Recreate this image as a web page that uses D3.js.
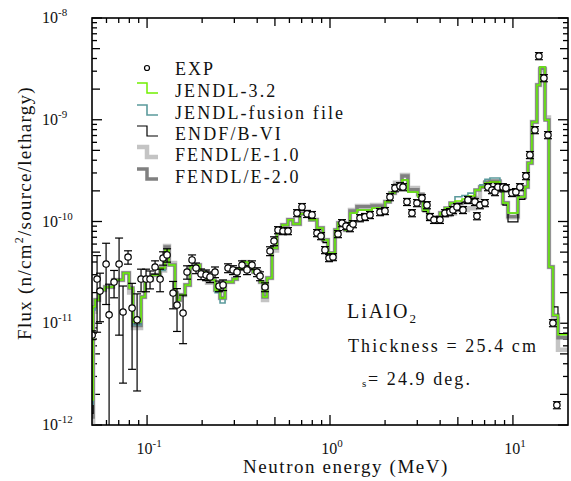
<!DOCTYPE html>
<html>
<head>
<meta charset="utf-8">
<script src="https://cdn.jsdelivr.net/npm/d3@7"></script>
<style>
  body { margin: 0; background: #fff; }
  text { font-family: "Liberation Serif", "Times New Roman", serif; fill: #111; }
</style>
</head>
<body>
<svg id="chart"></svg>
<script>
const width = 571;
const height = 481;

// group boundaries (MeV), 81 groups
const binEdges = [
  0.0500, 0.0507, 0.0520, 0.0547, 0.0589, 0.0652, 0.0740, 0.0798, 0.0838, 0.0927,
  0.0975, 0.1064, 0.1178, 0.1254, 0.1318, 0.1422, 0.1458, 0.1514, 0.1613, 0.1718,
  0.1830, 0.1949, 0.2128, 0.2353, 0.2506, 0.2669, 0.2951, 0.3104, 0.3348, 0.3565,
  0.3797, 0.4140, 0.4303, 0.4526, 0.4821, 0.5135, 0.5469, 0.5891, 0.6275, 0.6856,
  0.7777, 0.8490, 0.9157, 0.9752, 1.065, 1.106, 1.208, 1.286, 1.404, 1.697,
  1.998, 2.128, 2.266, 2.474, 2.668, 3.026, 3.223, 3.433, 3.992, 4.252,
  4.528, 4.822, 5.264, 5.675, 6.197, 6.600, 7.029, 7.486, 8.491, 8.815,
  9.398, 10.65, 11.63, 12.08, 12.70, 13.53, 14.05, 14.97, 15.74, 16.55,
  17.63, 20.0
];

const jendl32 = [
  1.76e-12, 1.45e-11, 1.69e-11, 2.12e-11, 2.27e-11, 2.66e-11, 3.12e-11, 2.22e-11, 1.03e-11, 1.81e-11,
  2.66e-11, 2.98e-11, 3.49e-11, 5.25e-11, 3.73e-11, 1.98e-11, 1.69e-11, 1.90e-11, 2.38e-11, 3.57e-11,
  3.73e-11, 3.19e-11, 2.66e-11, 2.12e-11, 1.77e-11, 2.54e-11, 2.72e-11, 3.41e-11, 4.00e-11, 3.57e-11,
  3.19e-11, 2.54e-11, 1.81e-11, 2.79e-11, 5.49e-11, 7.88e-11, 9.24e-11, 1.04e-10, 9.44e-11, 1.19e-10,
  1.04e-10, 8.63e-11, 6.58e-11, 4.90e-11, 8.24e-11, 9.66e-11, 8.24e-11, 1.21e-10, 1.30e-10, 1.36e-10,
  1.56e-10, 1.91e-10, 2.29e-10, 2.56e-10, 1.95e-10, 1.74e-10, 1.30e-10, 1.08e-10, 1.21e-10, 1.36e-10,
  1.52e-10, 1.59e-10, 1.66e-10, 1.78e-10, 2.04e-10, 2.18e-10, 2.39e-10, 2.44e-10, 2.04e-10, 1.52e-10,
  1.21e-10, 1.74e-10, 2.18e-10, 3.76e-10, 9.51e-10, 2.20e-9, 3.30e-9, 9.95e-10, 3.57e-11, 1.20e-11,
  7.7e-12
];

const jendlFusion = [
  1.60e-12, 1.35e-11, 1.69e-11, 2.12e-11, 2.27e-11, 2.66e-11, 3.12e-11, 2.22e-11, 9.60e-12, 1.81e-11,
  2.66e-11, 2.98e-11, 3.30e-11, 5.25e-11, 3.73e-11, 1.98e-11, 1.69e-11, 1.90e-11, 2.38e-11, 3.57e-11,
  3.73e-11, 3.19e-11, 2.66e-11, 2.00e-11, 1.58e-11, 2.54e-11, 2.72e-11, 3.41e-11, 4.00e-11, 3.57e-11,
  3.19e-11, 2.54e-11, 1.81e-11, 2.79e-11, 5.49e-11, 7.88e-11, 9.24e-11, 1.04e-10, 9.44e-11, 1.19e-10,
  1.04e-10, 8.63e-11, 6.58e-11, 4.90e-11, 8.24e-11, 9.66e-11, 8.24e-11, 1.21e-10, 1.30e-10, 1.36e-10,
  1.56e-10, 1.91e-10, 2.29e-10, 2.56e-10, 1.95e-10, 1.74e-10, 1.30e-10, 1.08e-10, 1.21e-10, 1.36e-10,
  1.52e-10, 1.75e-10, 1.80e-10, 1.90e-10, 2.04e-10, 2.30e-10, 2.60e-10, 2.68e-10, 2.04e-10, 1.52e-10,
  1.21e-10, 1.74e-10, 2.18e-10, 3.76e-10, 9.51e-10, 2.20e-9, 3.30e-9, 9.95e-10, 3.57e-11, 1.20e-11,
  7.7e-12
];

const endfB6 = [
  1.30e-12, 1.45e-11, 1.69e-11, 2.12e-11, 2.27e-11, 2.66e-11, 3.12e-11, 2.22e-11, 9.80e-12, 1.81e-11,
  2.66e-11, 2.98e-11, 3.49e-11, 5.25e-11, 3.73e-11, 1.98e-11, 1.69e-11, 1.90e-11, 2.38e-11, 3.57e-11,
  3.73e-11, 3.19e-11, 2.66e-11, 2.12e-11, 1.77e-11, 2.54e-11, 2.72e-11, 3.41e-11, 4.00e-11, 3.57e-11,
  3.19e-11, 2.54e-11, 1.81e-11, 2.79e-11, 5.49e-11, 7.88e-11, 9.24e-11, 1.04e-10, 9.44e-11, 1.19e-10,
  1.04e-10, 8.63e-11, 6.20e-11, 4.70e-11, 8.24e-11, 9.66e-11, 8.24e-11, 1.21e-10, 1.30e-10, 1.36e-10,
  1.56e-10, 1.91e-10, 2.29e-10, 2.56e-10, 1.95e-10, 1.74e-10, 1.25e-10, 1.05e-10, 1.21e-10, 1.36e-10,
  1.52e-10, 1.50e-10, 1.55e-10, 1.65e-10, 2.04e-10, 2.18e-10, 2.39e-10, 2.44e-10, 1.95e-10, 1.45e-10,
  9.90e-11, 1.65e-10, 2.18e-10, 3.76e-10, 9.51e-10, 2.20e-9, 3.30e-9, 9.95e-10, 3.57e-11, 1.45e-11,
  7.9e-12
];

const fendl10 = [
  8.90e-13, 1.30e-11, 1.69e-11, 2.12e-11, 2.27e-11, 2.66e-11, 3.12e-11, 2.00e-11, 9.00e-12, 1.81e-11,
  2.66e-11, 2.98e-11, 3.30e-11, 5.76e-11, 3.90e-11, 1.98e-11, 1.69e-11, 1.90e-11, 2.38e-11, 3.57e-11,
  3.73e-11, 3.19e-11, 2.50e-11, 2.12e-11, 1.77e-11, 2.54e-11, 2.72e-11, 3.41e-11, 4.00e-11, 3.57e-11,
  3.19e-11, 2.54e-11, 1.69e-11, 2.79e-11, 5.20e-11, 7.88e-11, 9.24e-11, 1.04e-10, 9.44e-11, 1.19e-10,
  1.04e-10, 8.63e-11, 6.58e-11, 4.38e-11, 8.24e-11, 9.66e-11, 8.24e-11, 1.30e-10, 1.42e-10, 1.45e-10,
  1.56e-10, 1.91e-10, 2.40e-10, 2.86e-10, 2.14e-10, 1.82e-10, 1.40e-10, 1.08e-10, 1.21e-10, 1.16e-10,
  1.20e-10, 1.30e-10, 1.30e-10, 1.35e-10, 1.70e-10, 2.18e-10, 2.39e-10, 2.44e-10, 2.04e-10, 1.52e-10,
  1.10e-10, 1.74e-10, 2.18e-10, 3.76e-10, 9.51e-10, 2.20e-9, 3.10e-9, 1.05e-9, 3.57e-11, 1.10e-11,
  5.5e-12
];

const fendl20 = [
  1.20e-12, 1.45e-11, 1.69e-11, 2.12e-11, 2.27e-11, 2.66e-11, 3.12e-11, 2.22e-11, 9.50e-12, 1.81e-11,
  2.66e-11, 2.98e-11, 3.49e-11, 5.60e-11, 3.73e-11, 1.98e-11, 1.69e-11, 1.90e-11, 2.38e-11, 3.57e-11,
  3.73e-11, 3.19e-11, 2.66e-11, 2.12e-11, 1.77e-11, 2.54e-11, 2.72e-11, 3.41e-11, 4.00e-11, 3.57e-11,
  3.19e-11, 2.54e-11, 1.81e-11, 2.79e-11, 5.49e-11, 7.88e-11, 9.24e-11, 1.04e-10, 9.44e-11, 1.19e-10,
  1.04e-10, 8.63e-11, 6.58e-11, 4.90e-11, 8.24e-11, 9.66e-11, 8.24e-11, 1.27e-10, 1.40e-10, 1.42e-10,
  1.56e-10, 1.91e-10, 2.29e-10, 2.80e-10, 2.05e-10, 1.85e-10, 1.30e-10, 1.08e-10, 1.21e-10, 1.36e-10,
  1.52e-10, 1.50e-10, 1.55e-10, 1.70e-10, 2.04e-10, 2.18e-10, 2.45e-10, 2.50e-10, 2.04e-10, 1.52e-10,
  1.12e-10, 1.74e-10, 2.18e-10, 3.76e-10, 9.51e-10, 2.20e-9, 3.20e-9, 9.95e-10, 3.57e-11, 1.20e-11,
  7.2e-12
];

// measured points
const expE = [
  0.0501, 0.0533, 0.0553, 0.0597, 0.0620, 0.0660, 0.0703, 0.0739, 0.0787, 0.0828,
  0.0882, 0.0927, 0.0987, 0.1038, 0.1106, 0.1178, 0.1223, 0.1286, 0.1387, 0.1458,
  0.1573, 0.1654, 0.1762, 0.1852, 0.1973, 0.2101, 0.2209, 0.2352, 0.2474, 0.2602,
  0.2771, 0.2951, 0.3103, 0.3304, 0.3519, 0.3748, 0.3991, 0.4145, 0.4414, 0.4700,
  0.4943, 0.5198, 0.5535, 0.5895, 0.6601, 0.7031, 0.7487, 0.7974, 0.8491, 0.8930,
  0.9390, 0.9875, 1.038, 1.106, 1.163, 1.223, 1.286, 1.336, 1.459, 1.553,
  1.654, 1.876, 1.998, 2.128, 2.266, 2.413, 2.506, 2.635, 2.806, 2.988,
  3.182, 3.389, 3.519, 3.701, 3.992, 4.250, 4.526, 4.700, 4.943, 5.332,
  5.677, 6.199, 6.357, 6.601, 7.031, 7.302, 7.679, 7.975, 8.279, 8.817,
  9.157, 9.875, 10.38, 10.92, 11.78, 12.38, 13.19, 13.87, 14.77, 15.54,
  16.54, 17.39
];
const expF = [
  7.66e-12, 2.72e-11, 2.07e-11, 3.82e-11, 1.21e-11, 2.54e-11, 3.82e-11, 1.29e-11, 4.48e-11, 1.41e-11,
  1.08e-11, 2.72e-11, 2.72e-11, 2.72e-11, 3.57e-11, 2.72e-11, 4.38e-11, 4.69e-11, 1.98e-11, 1.51e-11,
  1.26e-11, 3.19e-11, 4.19e-11, 3.49e-11, 3.05e-11, 2.98e-11, 2.85e-11, 3.19e-11, 2.32e-11, 2.38e-11,
  3.49e-11, 3.34e-11, 3.19e-11, 3.73e-11, 3.34e-11, 3.73e-11, 3.19e-11, 2.91e-11, 2.27e-11, 5.13e-11,
  6.43e-11, 8.24e-11, 8.07e-11, 8.07e-11, 1.21e-10, 1.39e-10, 1.19e-10, 1.16e-10, 7.71e-11, 7.20e-11,
  5.25e-11, 4.38e-11, 4.48e-11, 7.54e-11, 9.66e-11, 9.03e-11, 8.63e-11, 9.44e-11, 1.08e-10, 1.11e-10,
  1.16e-10, 1.24e-10, 1.27e-10, 1.74e-10, 2.13e-10, 2.23e-10, 2.18e-10, 1.56e-10, 1.21e-10, 1.52e-10,
  1.70e-10, 1.45e-10, 1.11e-10, 1.04e-10, 1.04e-10, 1.21e-10, 1.24e-10, 1.30e-10, 1.39e-10, 1.30e-10,
  1.63e-10, 1.56e-10, 1.13e-10, 1.45e-10, 1.52e-10, 2.18e-10, 2.04e-10, 1.95e-10, 2.18e-10, 2.18e-10,
  2.13e-10, 1.91e-10, 1.95e-10, 2.18e-10, 2.80e-10, 4.51e-10, 7.93e-10, 4.23e-9, 2.57e-9, 7.08e-10,
  1.005e-11, 1.57e-12
];
// relative uncertainty
const expErr = [
  0.10, 0.70, 0.50, 0.60, 1.00, 0.30, 0.80, 0.80, 0.15, 0.75,
  0.80, 0.25, 0.25, 0.20, 0.15, 0.25, 0.15, 0.15, 0.30, 0.45,
  0.50, 0.15, 0.12, 0.12, 0.12, 0.12, 0.12, 0.12, 0.12, 0.12,
  0.10, 0.10, 0.10, 0.10, 0.10, 0.10, 0.10, 0.10, 0.10, 0.10,
  0.10, 0.08, 0.08, 0.08, 0.08, 0.08, 0.08, 0.08, 0.08, 0.08,
  0.08, 0.08, 0.08, 0.08, 0.08, 0.08, 0.08, 0.08, 0.08, 0.08,
  0.08, 0.08, 0.08, 0.08, 0.08, 0.08, 0.08, 0.08, 0.08, 0.08,
  0.08, 0.08, 0.08, 0.08, 0.08, 0.08, 0.08, 0.08, 0.08, 0.08,
  0.08, 0.08, 0.08, 0.08, 0.08, 0.08, 0.08, 0.08, 0.08, 0.08,
  0.08, 0.08, 0.08, 0.08, 0.08, 0.08, 0.08, 0.08, 0.08, 0.08,
  0.08, 0.08
];

const seriesNames = ["JENDL-3.2", "JENDL-fusion file", "ENDF/B-VI", "FENDL/E-1.0", "FENDL/E-2.0"];
const xMajor = [0.1, 1, 10];
const yMajor = [1e-12, 1e-11, 1e-10, 1e-9, 1e-8];

const svg = d3.select("#chart")
    .attr("width", width)
    .attr("height", height);

const x = d3.scaleLog().domain([0.05, 20]).range([92, 568]);
const y = d3.scaleLog().domain([1e-12, 1e-8]).range([425, 18]);
const [x0, x1] = x.range();
const [y0, y1] = y.range();

// stretch a text to a given width through letter-spacing
function fitWidth(sel, target) {
  const node = sel.node();
  const n = node.textContent.length;
  const w = node.getComputedTextLength();
  sel.attr("letter-spacing", ((target - w) / n).toFixed(2));
}

svg.append("clipPath").attr("id", "plot")
  .append("rect").attr("x", x0).attr("y", y1).attr("width", x1 - x0).attr("height", y0 - y1);

// ticks: every 1..9 inside each decade
const xTicks = [];
[0.01, 0.1, 1, 10].forEach(d => { for (let k = 1; k < 10; k++) { const v = d * k; if (v > 0.05 && v < 20) xTicks.push(v); } });
const yTicks = [];
[1e-12, 1e-11, 1e-10, 1e-9].forEach(d => { for (let k = 2; k < 10; k++) yTicks.push(d * k); });

function xLen(v) {
  const m = Math.round(v / Math.pow(10, Math.floor(Math.log10(v) + 1e-9)));
  return m === 1 ? 10 : (m === 5 ? 8 : 5);
}
function yLen(v) {
  const m = Math.round(v / Math.pow(10, Math.floor(Math.log10(v) + 1e-9)));
  return m === 1 ? 10 : (m === 2 || m === 5 ? 8 : 5);
}

const axes = svg.append("g").attr("stroke", "#000").attr("stroke-width", 1.3);
xTicks.forEach(v => {
  const px = x(v), L = xLen(v);
  axes.append("line").attr("x1", px).attr("x2", px).attr("y1", y0).attr("y2", y0 - L);
  axes.append("line").attr("x1", px).attr("x2", px).attr("y1", y1).attr("y2", y1 + L);
});
yMajor.concat(yTicks).forEach(v => {
  const py = y(v), L = yLen(v);
  axes.append("line").attr("y1", py).attr("y2", py).attr("x1", x0).attr("x2", x0 + L);
  axes.append("line").attr("y1", py).attr("y2", py).attr("x1", x1).attr("x2", x1 - L);
});

// library step curves
const stepLine = d3.line()
    .x(d => x(d[0]))
    .y(d => y(d[1]))
    .curve(d3.curveStepAfter);

function stepPoints(vals) {
  const pts = vals.map((v, i) => [binEdges[i], v]);
  pts.push([binEdges[binEdges.length - 1], vals[vals.length - 1]]);
  return pts;
}

const libs = [
  { vals: fendl10, color: "#c4c4c4", w: 4.5, name: seriesNames[3] },
  { vals: fendl20, color: "#808080", w: 3.5, name: seriesNames[4] },
  { vals: endfB6, color: "#000000", w: 1.2, name: seriesNames[2] },
  { vals: jendlFusion, color: "#5b9a9c", w: 1.6, name: seriesNames[1] },
  { vals: jendl32, color: "#72f000", w: 1.5, name: seriesNames[0] }
];

const curves = svg.append("g").attr("clip-path", "url(#plot)");
libs.forEach(s => {
  curves.append("path")
    .attr("d", stepLine(stepPoints(s.vals)))
    .attr("fill", "none")
    .attr("stroke", s.color)
    .attr("stroke-width", s.w)
    .attr("stroke-linejoin", "miter");
});

// experiment with error bars
const expData = expE.map((e, i) => ({ e: e, f: expF[i], err: expErr[i] }));
const pts = svg.append("g").attr("clip-path", "url(#plot)");
expData.forEach(d => {
  const px = x(d.e);
  const hi = y(d.f * (1 + d.err));
  const loV = d.f * (1 - d.err);
  const lo = loV > 0 ? y(loV) : y0 + 20;
  pts.append("line").attr("x1", px).attr("x2", px).attr("y1", hi).attr("y2", lo)
    .attr("stroke", "#000").attr("stroke-width", 1.2);
  pts.append("line").attr("x1", px - 4).attr("x2", px + 4).attr("y1", hi).attr("y2", hi)
    .attr("stroke", "#000").attr("stroke-width", 1.2);
  pts.append("line").attr("x1", px - 4).attr("x2", px + 4).attr("y1", lo).attr("y2", lo)
    .attr("stroke", "#000").attr("stroke-width", 1.2);
});
expData.forEach(d => {
  pts.append("circle").attr("cx", x(d.e)).attr("cy", y(d.f)).attr("r", 3.2)
    .attr("fill", "#fff").attr("stroke", "#000").attr("stroke-width", 1.2);
});

// frame
svg.append("rect").attr("x", x0).attr("y", y1).attr("width", x1 - x0).attr("height", y0 - y1)
  .attr("fill", "none").attr("stroke", "#000").attr("stroke-width", 1.6);

// tick labels
const xExp = ["-1", "0", "1"];
xMajor.forEach((v, i) => {
  const t = svg.append("text").attr("x", x(v) + 2).attr("y", 454)
    .attr("text-anchor", "middle").attr("font-size", 16);
  t.append("tspan").text("10");
  t.append("tspan").attr("dy", -7).attr("font-size", 11).text(xExp[i]);
});
const yExp = ["-12", "-11", "-10", "-9", "-8"];
yMajor.forEach((v, i) => {
  const t = svg.append("text").attr("x", 42).attr("y", y(v) + 5).attr("font-size", 16);
  t.append("tspan").text("10");
  t.append("tspan").attr("dy", -7).attr("font-size", 11).text(yExp[i]);
});

// axis titles
const xl = svg.append("text").attr("x", 346).attr("y", 473).attr("text-anchor", "middle")
  .attr("font-size", 19).text("Neutron energy (MeV)");
fitWidth(xl, 206);

const yl = svg.append("text").attr("transform", "translate(31,213) rotate(-90)")
  .attr("text-anchor", "middle").attr("font-size", 19);
yl.append("tspan").text("Flux (n/cm");
yl.append("tspan").attr("dy", -8).attr("font-size", 12).text("2");
yl.append("tspan").attr("dy", 8).text("/source/lethargy)");
fitWidth(yl, 254);

// legend
const legend = svg.append("g");
const lgY = [75, 97, 119, 140, 161, 183];
legend.append("circle").attr("cx", 147).attr("cy", 68).attr("r", 2.5)
  .attr("fill", "#fff").attr("stroke", "#000").attr("stroke-width", 1.2);
legend.append("text").attr("x", 175).attr("y", lgY[0]).attr("font-size", 18)
  .attr("letter-spacing", 2).text("EXP");
const legendOrder = [libs[4], libs[3], libs[2], libs[0], libs[1]];
legendOrder.forEach((s, i) => {
  const b = lgY[i + 1];
  legend.append("path")
    .attr("d", `M137,${b - 14}H147V${b - 4}H158`)
    .attr("fill", "none").attr("stroke", s.color).attr("stroke-width", s.w);
  legend.append("text").attr("x", 175).attr("y", b).attr("font-size", 18)
    .attr("letter-spacing", 2.1).text(s.name);
});

// annotation
const ann = svg.append("g");
const t1 = ann.append("text").attr("x", 347).attr("y", 318).attr("font-size", 20);
t1.append("tspan").text("LiAlO");
t1.append("tspan").attr("dy", 5).attr("font-size", 13).text("2");
fitWidth(t1, 71);
const t2 = ann.append("text").attr("x", 348).attr("y", 352).attr("font-size", 18)
  .text("Thickness = 25.4 cm");
fitWidth(t2, 190);
ann.append("text").attr("x", 362).attr("y", 387).attr("font-size", 11).text("s");
const t3 = ann.append("text").attr("x", 368).attr("y", 385).attr("font-size", 18)
  .text("= 24.9 deg.");
fitWidth(t3, 104);
</script>
</body>
</html>
